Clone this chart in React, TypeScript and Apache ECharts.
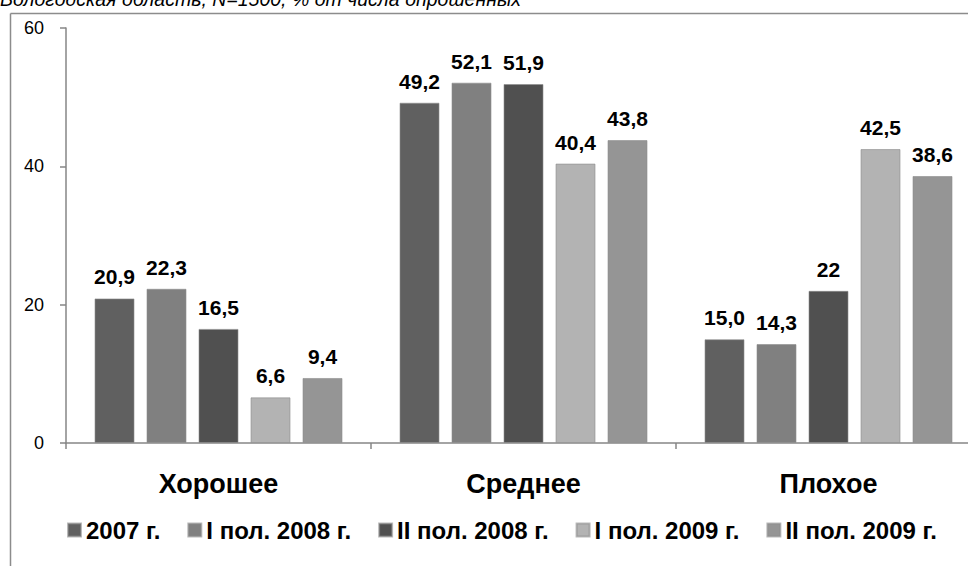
import React, { useEffect, useRef } from "react";
import * as echarts from "echarts";

const titleText = "Вологодская область, N=1500, % от числа опрошенных";
const categories = ["Хорошее", "Среднее", "Плохое"];
const seriesNames = ["2007 г.", "I пол. 2008 г.", "II пол. 2008 г.", "I пол. 2009 г.", "II пол. 2009 г."];
const v2007 = [20.9, 49.2, 15.0];
const vI2008 = [22.3, 52.1, 14.3];
const vII2008 = [16.5, 51.9, 22];
const vI2009 = [6.6, 40.4, 42.5];
const vII2009 = [9.4, 43.8, 38.6];
const t2007 = ["20,9", "49,2", "15,0"];
const tI2008 = ["22,3", "52,1", "14,3"];
const tII2008 = ["16,5", "51,9", "22"];
const tI2009 = ["6,6", "40,4", "42,5"];
const tII2009 = ["9,4", "43,8", "38,6"];
const yTicks = [0, 20, 40, 60];

const values = [v2007, vI2008, vII2008, vI2009, vII2009];
const texts = [t2007, tI2008, tII2008, tI2009, tII2009];
const colors = ["#606060", "#808080", "#505050", "#b3b3b3", "#959595"];

const FONT = "'Liberation Sans', Arial, sans-serif";

export default function App() {
  const ref = useRef<HTMLDivElement>(null);
  useEffect(() => {
    if (!ref.current) return;
    const chart = echarts.init(ref.current, undefined, { renderer: "svg" });
    chart.setOption({
      animation: false,
      backgroundColor: "#ffffff",
      textStyle: { fontFamily: FONT },
      graphic: [
        {
          type: "line",
          shape: { x1: 10.5, y1: 13.5, x2: 1000, y2: 13.5 },
          style: { stroke: "#8c8c8c", lineWidth: 1.5 },
          z: 1,
        },
        {
          type: "line",
          shape: { x1: 10.5, y1: 13.5, x2: 10.5, y2: 566 },
          style: { stroke: "#8c8c8c", lineWidth: 1.5 },
          z: 1,
        },
        {
          type: "text",
          left: 0,
          top: -11,
          z: 5,
          style: {
            text: titleText,
            fontFamily: FONT,
            fontStyle: "italic",
            fontSize: 19.5,
            fill: "#000000",
          },
        },
      ],
      legend: {
        data: seriesNames,
        left: 67,
        top: 518,
        padding: 0,
        itemWidth: 13,
        itemHeight: 13,
        itemGap: 27,
        icon: "rect",
        textStyle: { fontFamily: FONT, fontWeight: "bold", fontSize: 24, color: "#000" },
      },
      grid: { left: 66, top: 28, width: 915, height: 415, containLabel: false },
      xAxis: {
        type: "category",
        data: categories,
        axisLine: { lineStyle: { color: "#868686", width: 1.5 } },
        axisTick: { show: true, length: 6, lineStyle: { color: "#868686", width: 1.5 } },
        axisLabel: {
          margin: 27,
          fontFamily: FONT,
          fontWeight: "bold",
          fontSize: 27,
          color: "#000",
        },
      },
      yAxis: {
        type: "value",
        min: yTicks[0],
        max: yTicks[yTicks.length - 1],
        interval: 20,
        splitLine: { show: false },
        axisLine: { show: true, lineStyle: { color: "#868686", width: 1.5 } },
        axisTick: { show: true, length: 6, lineStyle: { color: "#868686", width: 1.5 } },
        axisLabel: { margin: 22, fontFamily: FONT, fontSize: 18, color: "#000" },
      },
      series: seriesNames.map((name, i) => ({
        name,
        type: "bar",
        data: values[i],
        barWidth: 40,
        barGap: "30%",
        itemStyle: { color: colors[i], borderColor: "rgba(140,140,140,0.6)", borderWidth: 1 },
        label: {
          show: true,
          position: "top",
          distance: 11,
          fontFamily: FONT,
          fontWeight: "bold",
          fontSize: 21,
          color: "#000",
          formatter: (p: any) => texts[i][p.dataIndex],
        },
      })),
    });
    return () => chart.dispose();
  }, []);
  return (
    <div
      style={{
        position: "absolute",
        left: 0,
        top: 0,
        width: 968,
        height: 566,
        overflow: "hidden",
        background: "#fff",
      }}
    >
      <div ref={ref} style={{ width: 1000, height: 566 }} />
    </div>
  );
}
